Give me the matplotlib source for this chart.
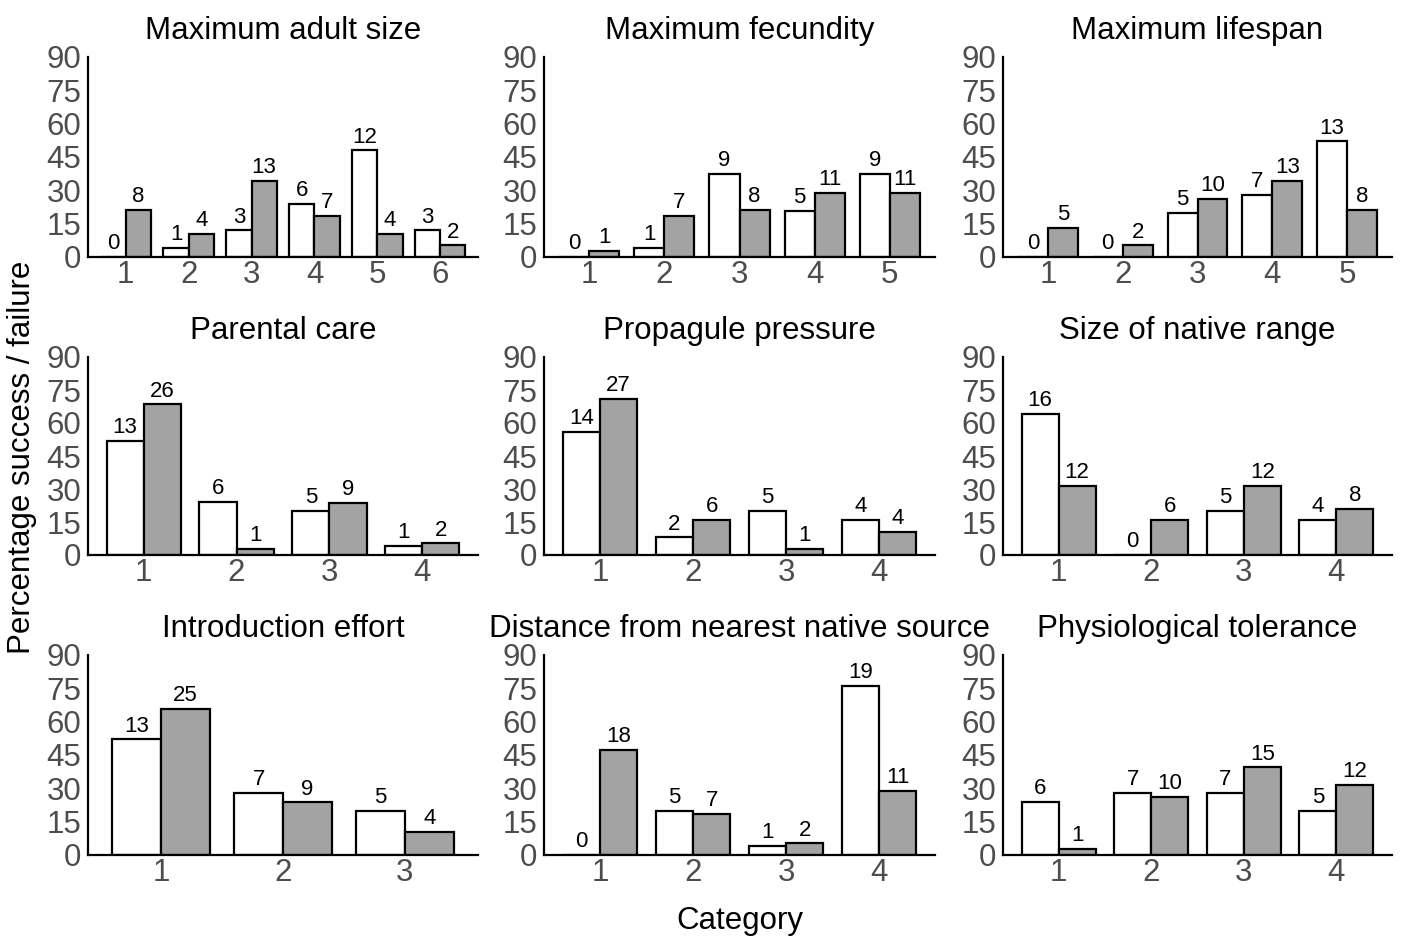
import matplotlib
matplotlib.use("Agg")
import matplotlib.pyplot as plt
import numpy as np

plt.rcParams['font.family'] = ['Liberation Sans', 'DejaVu Sans']

# panel titles, row by row
titles = ["Maximum adult size", "Maximum fecundity", "Maximum lifespan",
          "Parental care", "Propagule pressure", "Size of native range",
          "Introduction effort", "Distance from nearest native source",
          "Physiological tolerance"]

# counts of successful (white) and failed (grey) introductions per category
success = [
    [0, 1, 3, 6, 12, 3],
    [0, 1, 9, 5, 9],
    [0, 0, 5, 7, 13],
    [13, 6, 5, 1],
    [14, 2, 5, 4],
    [16, 0, 5, 4],
    [13, 7, 5],
    [0, 5, 1, 19],
    [6, 7, 7, 5],
]
failure = [
    [8, 4, 13, 7, 4, 2],
    [1, 7, 8, 11, 11],
    [5, 2, 10, 13, 8],
    [26, 1, 9, 2],
    [27, 6, 1, 4],
    [12, 6, 12, 8],
    [25, 9, 4],
    [18, 7, 2, 11],
    [1, 10, 15, 12],
]

yticks = [0, 15, 30, 45, 60, 75, 90]

fig = plt.figure(figsize=(14.07, 9.4), dpi=100)

lefts = [88, 544, 1003]
rights = [478, 935, 1392]
tops = [57, 357, 655]
bottoms = [257, 555, 855]
W, H = 1407, 940

bw = 0.4
for k in range(9):
    r, c = divmod(k, 3)
    ax = fig.add_axes([lefts[c] / W, 1 - bottoms[r] / H,
                       (rights[c] - lefts[c]) / W, (bottoms[r] - tops[r]) / H])
    s = np.array(success[k], dtype=float)
    f = np.array(failure[k], dtype=float)
    ps = s / s.sum() * 100
    pf = f / f.sum() * 100
    x = np.arange(1, len(s) + 1)
    ax.bar(x - bw / 2, ps, bw, color='white', edgecolor='black', linewidth=1.6)
    ax.bar(x + bw / 2, pf, bw, color='#a3a3a3', edgecolor='black', linewidth=1.6)
    for xi, p, n in zip(x - bw / 2, ps, success[k]):
        ax.annotate(str(n), (xi, p), xytext=(0, 2), textcoords='offset points',
                    ha='center', va='bottom', fontsize=16)
    for xi, p, n in zip(x + bw / 2, pf, failure[k]):
        ax.annotate(str(n), (xi, p), xytext=(0, 2), textcoords='offset points',
                    ha='center', va='bottom', fontsize=16)
    ax.set_xlim(0.4, len(s) + 0.6)
    ax.set_ylim(0, 90)
    ax.set_yticks(yticks)
    ax.set_xticks(x)
    ax.tick_params(length=0, labelsize=22.5, labelcolor='#4d4d4d')
    ax.tick_params(axis='y', pad=5)
    ax.tick_params(axis='x', pad=2)
    for sp in ['top', 'right']:
        ax.spines[sp].set_visible(False)
    for sp in ['left', 'bottom']:
        ax.spines[sp].set_linewidth(1.6)
    ax.set_title(titles[k], fontsize=22.5, pad=13)

fig.text(740 / W, 1 - 921 / H, "Category", ha='center', va='center', fontsize=22.5)
fig.text(22 / W, 1 - 457 / H, "Percentage success / failure", ha='center',
         va='center', rotation=90, fontsize=22.5)

fig.savefig("out.png", dpi=100)
